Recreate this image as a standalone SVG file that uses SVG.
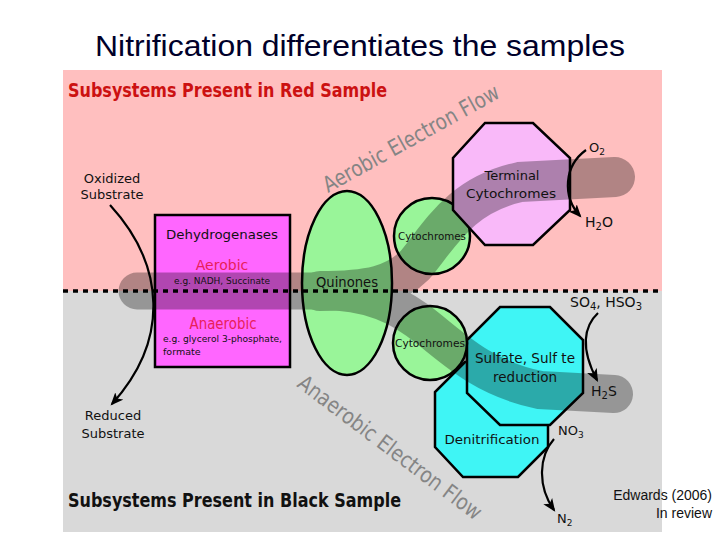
<svg xmlns="http://www.w3.org/2000/svg" width="720" height="540" viewBox="0 0 720 540">
<style>
.lbl{font-family:"DejaVu Sans","Liberation Sans",sans-serif;fill:#111;text-anchor:middle}
.hd{font-family:"DejaVu Sans","Liberation Sans",sans-serif;font-weight:bold;font-size:19px}
.flow{font-family:"DejaVu Sans","Liberation Sans",sans-serif;fill:#858585;font-size:22px}
.shape{stroke:#000;stroke-width:2.5}
.arr{fill:none;stroke:#000;stroke-width:2.2;marker-end:url(#ah)}
.chem{font-family:"DejaVu Sans","Liberation Sans",sans-serif;fill:#111;font-size:13px}
</style>
<defs>
<marker id="ah" viewBox="0 0 12 10" refX="10" refY="5" markerWidth="13" markerHeight="11" markerUnits="userSpaceOnUse" orient="auto">
<path d="M0,0 L12,5 L0,10 L3,5 Z" fill="#000"/>
</marker>
</defs>
<rect width="720" height="540" fill="#fff"/>
<text x="360" y="56" font-family="Liberation Sans, Arial, sans-serif" font-size="30" fill="#00002a" text-anchor="middle" textLength="530" lengthAdjust="spacingAndGlyphs">Nitrification differentiates the samples</text>
<rect x="63" y="70" width="599" height="221" fill="#ffbfbf"/>
<rect x="63" y="291" width="599" height="241" fill="#d9d9d9"/>
<text class="hd" x="68" y="97" fill="#cc1111" textLength="319" lengthAdjust="spacingAndGlyphs">Subsystems Present in Red Sample</text>
<text class="hd" x="68" y="507" fill="#111" textLength="333" lengthAdjust="spacingAndGlyphs">Subsystems Present in Black Sample</text>
<text class="flow" transform="translate(328,193) rotate(-29)" textLength="198" lengthAdjust="spacingAndGlyphs">Aerobic Electron Flow</text>
<g id="dehydrogenases"><rect class="shape" x="155" y="215" width="135" height="152" fill="#ff66ff"/></g>
<g id="quinones"><ellipse class="shape" cx="347" cy="283" rx="45" ry="92" fill="#99f599"/></g>
<g id="denitrification"><polygon class="shape" points="465,362 518,362 548,392 548,447 518,477 463,477 435,447 435,392" fill="#3ff5f5"/></g>
<g id="cyt-upper"><circle class="shape" cx="432" cy="236" r="38" fill="#99f599"/></g>
<g id="terminal"><polygon class="shape" points="485,123 533,123 570,158 570,210 533,245 485,245 453,210 453,158" fill="#f9b9f9"/></g>
<g id="sulfate"><polygon class="shape" points="500,307 550,307 583,340 583,393 550,425 500,425 467,393 467,340" fill="#3ff5f5"/></g>
<g id="cyt-lower"><circle class="shape" cx="430" cy="343" r="37" fill="#99f599"/></g>
<text class="flow" transform="translate(296,386) rotate(37)" textLength="224" lengthAdjust="spacingAndGlyphs">Anaerobic Electron Flow</text>
<g id="band" opacity="0.3" fill="none" stroke="#000" stroke-linecap="round">
<path d="M137,291 L335,291" stroke-width="37"/>
<path d="M320,291 C370,291 395,285 415,265 C440,235 460,195 520,182 L615,177" stroke-width="40"/>
<path d="M320,291 C370,291 400,305 430,330 C460,355 490,380 540,390 L614,394" stroke-width="38"/>
</g>
<g id="labels">
<text class="lbl" x="112" y="183" font-size="13">Oxidized</text>
<text class="lbl" x="112" y="199" font-size="13">Substrate</text>
<text class="lbl" x="113" y="420" font-size="13">Reduced</text>
<text class="lbl" x="113" y="438" font-size="13">Substrate</text>
<text class="lbl" x="222" y="239" font-size="13" textLength="112" lengthAdjust="spacingAndGlyphs">Dehydrogenases</text>
<text class="lbl" x="222" y="270" font-size="14" style="fill:#e8205a">Aerobic</text>
<text class="lbl" x="222" y="284" font-size="9" textLength="96" lengthAdjust="spacingAndGlyphs">e.g. NADH, Succinate</text>
<text class="lbl" x="223" y="329" font-size="15" style="fill:#e8205a" textLength="67" lengthAdjust="spacingAndGlyphs">Anaerobic</text>
<text class="lbl" x="163" y="342" font-size="9.5" style="text-anchor:start" textLength="119" lengthAdjust="spacingAndGlyphs">e.g. glycerol 3-phosphate,</text>
<text class="lbl" x="163" y="355" font-size="9.5" style="text-anchor:start">formate</text>
<text class="lbl" x="347" y="287" font-size="14" textLength="62" lengthAdjust="spacingAndGlyphs">Quinones</text>
<text class="lbl" x="432" y="240" font-size="11" textLength="68" lengthAdjust="spacingAndGlyphs">Cytochromes</text>
<text class="lbl" x="430" y="347" font-size="11" textLength="70" lengthAdjust="spacingAndGlyphs">Cytochromes</text>
<text class="lbl" x="512" y="180" font-size="13">Terminal</text>
<text class="lbl" x="511" y="198" font-size="13" textLength="90" lengthAdjust="spacingAndGlyphs">Cytochromes</text>
<text class="lbl" x="525" y="363" font-size="14" textLength="100" lengthAdjust="spacingAndGlyphs">Sulfate, Sulf te</text>
<text class="lbl" x="525" y="382" font-size="14" textLength="64" lengthAdjust="spacingAndGlyphs">reduction</text>
<text class="lbl" x="492" y="444" font-size="13" textLength="95" lengthAdjust="spacingAndGlyphs">Denitrification</text>
<text class="chem" x="589" y="152">O<tspan font-size="9" dy="3">2</tspan></text>
<text class="chem" x="585" y="227" style="font-size:14px">H<tspan font-size="10" dy="3">2</tspan><tspan dy="-3">O</tspan></text>
<text class="chem" x="570" y="307" style="font-size:14px">SO<tspan font-size="10" dy="3">4</tspan><tspan dy="-3">, HSO</tspan><tspan font-size="10" dy="3">3</tspan></text>
<text class="chem" x="591" y="396" style="font-size:14px">H<tspan font-size="10" dy="3">2</tspan><tspan dy="-3">S</tspan></text>
<text class="chem" x="558" y="435">NO<tspan font-size="9" dy="3">3</tspan></text>
<text class="chem" x="557" y="523">N<tspan font-size="9" dy="3">2</tspan></text>
</g>
<g id="connectors">
<path class="arr" d="M110,205 C165,265 170,340 112,404"/>
<path class="arr" d="M586,150 C564,166 562,196 580,216"/>
<path class="arr" d="M598,313 C584,326 580,348 597,380"/>
<path class="arr" d="M554,439 C539,456 537,486 554,510"/>
</g>
<line x1="63" y1="291" x2="662" y2="291" stroke="#000" stroke-width="3.5" stroke-dasharray="5,5"/>
<text x="712" y="500" font-family="Liberation Sans, Arial, sans-serif" font-size="14" fill="#111" text-anchor="end">Edwards (2006)</text>
<text x="712" y="518" font-family="Liberation Sans, Arial, sans-serif" font-size="14" fill="#111" text-anchor="end">In review</text>
</svg>
